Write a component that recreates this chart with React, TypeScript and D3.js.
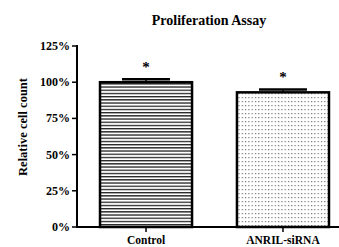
import React from "react";
import * as d3 from "d3";

const categories = ["Control", "ANRIL-siRNA"];
const values = [100, 93];
const errors = [2, 2];
const yTicks = [0, 25, 50, 75, 100, 125];
const stars = ["*", "*"];

export default function App() {
  const W = 339, H = 247;
  const x0 = 77, x1 = 339, y0 = 227, yTop = 46;
  const y = d3.scaleLinear().domain([0, 125]).range([y0, yTop]);
  const x = d3.scaleBand().domain(categories).range([77, 352]).paddingInner(0.328).paddingOuter(0.168);
  const font = "'Liberation Serif', 'Times New Roman', serif";
  return (
    <svg width={W} height={H} style={{ position: "absolute", left: 0, top: 0 }}>
      <defs>
        <pattern id="hlines" patternUnits="userSpaceOnUse" width={6} height={3.2}>
          <rect x={0} y={0} width={6} height={3.2} fill="#fff" />
          <rect x={0} y={0} width={6} height={1.3} fill="#222" />
        </pattern>
        <pattern id="dots" patternUnits="userSpaceOnUse" width={3.3} height={4}>
          <rect x={0} y={0} width={3.3} height={4} fill="#fff" />
          <rect x={0.8} y={1} width={1.2} height={1.2} fill="#777" />
        </pattern>
      </defs>
      <text x={209} y={25} textAnchor="middle" fontFamily={font} fontWeight="bold" fontSize={14}>Proliferation Assay</text>
      <text transform={`translate(27,127) rotate(-90)`} textAnchor="middle" fontFamily={font} fontWeight="bold" fontSize={12.5}>Relative cell count</text>
      {categories.map((c, i) => {
        const bx = x(c)!;
        const bw = x.bandwidth();
        const cx = bx + bw / 2;
        return (
          <g key={c}>
            <line x1={cx} x2={cx} y1={y(values[i])} y2={y(values[i] + errors[i])} stroke="#000" strokeWidth={1.5} />
            <line x1={cx - 24} x2={cx + 24} y1={y(values[i] + errors[i])} y2={y(values[i] + errors[i])} stroke="#000" strokeWidth={2.5} />
            <rect x={bx} y={y(values[i])} width={bw} height={y0 - y(values[i])} fill={i === 0 ? "url(#hlines)" : "url(#dots)"} stroke="#000" strokeWidth={2.5} />
            <text x={cx} y={y(values[i] + errors[i]) - 7} textAnchor="middle" fontFamily={font} fontWeight="bold" fontSize={15} fill="#000">{stars[i]}</text>
            <line x1={cx} x2={cx} y1={y0} y2={y0 + 5} stroke="#000" strokeWidth={1.5} />
            <text x={cx} y={y0 + 17} textAnchor="middle" fontFamily={font} fontWeight="bold" fontSize={11.5}>{c}</text>
          </g>
        );
      })}
      <line x1={x0} x2={x0} y1={yTop - 1} y2={y0 + 1} stroke="#000" strokeWidth={2} />
      <line x1={x0 - 1} x2={x1} y1={y0} y2={y0} stroke="#000" strokeWidth={2} />
      {yTicks.map((t) => (
        <g key={t}>
          <line x1={x0 - 5} x2={x0} y1={y(t)} y2={y(t)} stroke="#000" strokeWidth={1.5} />
          <text x={x0 - 7} y={y(t) + 4} textAnchor="end" fontFamily={font} fontWeight="bold" fontSize={12}>{t}%</text>
        </g>
      ))}
    </svg>
  );
}
